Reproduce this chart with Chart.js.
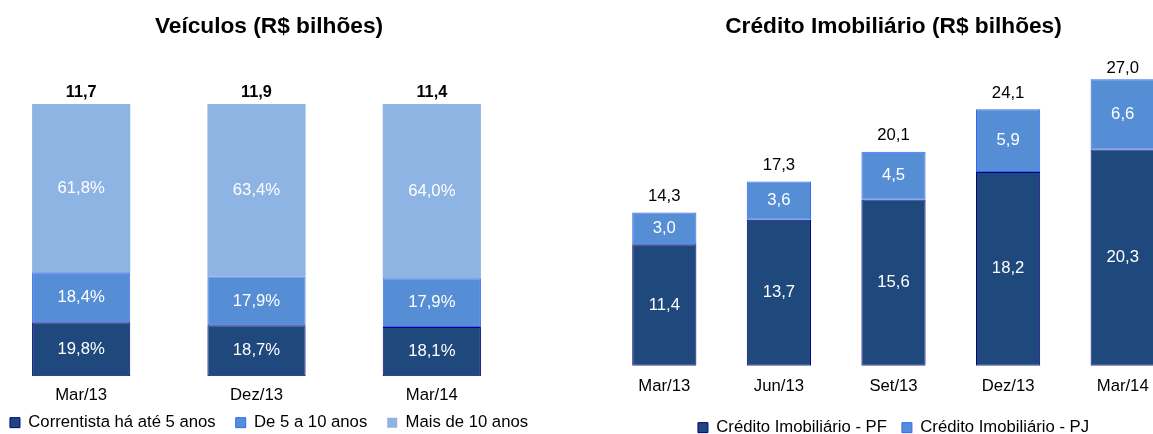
<!DOCTYPE html>
<html>
<head>
<meta charset="utf-8">
<script src="https://cdn.jsdelivr.net/npm/chart.js@4.4.0/dist/chart.umd.min.js"></script>
<style>
  html, body { margin: 0; padding: 0; width: 1153px; height: 434px; overflow: hidden; background: #fff; }
  body { position: relative; }
  canvas { position: absolute; top: 0; }
  #veic { left: -31px; }
  #imob { left: 607px; }
</style>
</head>
<body>
<canvas id="veic" width="600" height="441"></canvas>
<canvas id="imob" width="573" height="446"></canvas>
<script>
// Veículos - distribuição por tempo de relacionamento (%)
const veicLabels = ['Mar/13', 'Dez/13', 'Mar/14'];
const veicAte5 = [19.8, 18.7, 18.1];
const veic5a10 = [18.4, 17.9, 17.9];
const veicMais10 = [61.8, 63.4, 64.0];
const veicTotais = [11.7, 11.9, 11.4];

// Crédito imobiliário (R$ bilhões)
const imobLabels = ['Mar/13', 'Jun/13', 'Set/13', 'Dez/13', 'Mar/14'];
const imobPF = [11.4, 13.7, 15.6, 18.2, 20.3];
const imobPJ = [3.0, 3.6, 4.5, 5.9, 6.6];
const imobTotais = [14.3, 17.3, 20.1, 24.1, 27.0];

const FONT = "'Liberation Sans', Arial, sans-serif";
const FS = 16.7;       // texto normal
const TITLE_FS = 22.7; // títulos
Chart.defaults.font.family = FONT;
Chart.defaults.font.size = FS;
Chart.defaults.color = '#000';

const fmt = v => v.toFixed(1).replace('.', ',');

// rótulos dentro das barras + total acima da pilha
const barLabels = {
  id: 'barLabels',
  afterDatasetsDraw(chart, args, opts) {
    const ctx = chart.ctx;
    ctx.save();
    ctx.textAlign = 'center';
    ctx.textBaseline = 'middle';
    ctx.font = FS + 'px ' + FONT;
    ctx.fillStyle = '#fff';
    chart.data.datasets.forEach((ds, i) => {
      chart.getDatasetMeta(i).data.forEach((bar, j) => {
        ctx.fillText(fmt(ds.data[j]) + opts.suffix, bar.x, (bar.y + bar.base) / 2);
      });
    });
    const last = chart.getDatasetMeta(chart.data.datasets.length - 1).data;
    ctx.font = (opts.bold ? 'bold 16.3px ' : FS + 'px ') + FONT;
    ctx.fillStyle = '#000';
    last.forEach((bar, j) => {
      const y = Math.max(bar.y - opts.gap, chart.chartArea.top + opts.minTop);
      ctx.fillText(fmt(opts.totals[j]), bar.x, y);
    });
    ctx.restore();
  }
};

const dark = { backgroundColor: '#1F497D', borderColor: '#000080', borderWidth: 1, borderSkipped: false };
const mid = { backgroundColor: '#558ED5', borderColor: '#3366FF', borderWidth: 1, borderSkipped: false };
const light = { backgroundColor: '#8EB4E3', borderColor: '#8EB4E3', borderWidth: 0, borderSkipped: false };

// eixo x sem linhas; mirror evita o recorte dos rótulos quando a altura é fixada
// (com mirror o texto fica em top - padding - lineHeight/2)
function xAxis(center, h) {
  return {
    stacked: true,
    grid: { display: false, drawTicks: false },
    border: { display: false },
    ticks: { mirror: true, padding: -(center + FS * 0.6), color: '#000', font: { size: FS } },
    afterFit: s => { s.height = h; }
  };
}

// eixo y invisível que só ocupa largura
function spacer(pos, w, extra) {
  return Object.assign({
    position: pos,
    ticks: { display: false }, grid: { display: false }, border: { display: false },
    afterFit: s => { s.width = w; }
  }, extra);
}

new Chart(document.getElementById('veic'), {
  type: 'bar',
  data: {
    labels: veicLabels,
    datasets: [
      { label: 'Correntista há até 5 anos', data: veicAte5, ...dark },
      { label: 'De 5 a 10 anos', data: veic5a10, ...mid },
      { label: 'Mais de 10 anos', data: veicMais10, ...light }
    ]
  },
  options: {
    responsive: false,
    animation: false,
    barPercentage: 0.56,
    categoryPercentage: 1,
    layout: { padding: 0 },
    scales: {
      x: xAxis(19, 18.15),
      y: spacer('left', 24.5, { stacked: true, min: 0, max: 100 }),
      y2: spacer('right', 49.5, { min: 0, max: 1 })
    },
    plugins: {
      title: {
        display: true, text: 'Veículos (R$ bilhões)', color: '#000',
        font: { size: TITLE_FS, weight: 'bold' }, padding: { top: 12.9, bottom: 63.86 }
      },
      legend: {
        position: 'bottom',
        labels: { boxWidth: 10, boxHeight: 10, padding: 20, color: '#000', font: { size: FS } }
      },
      tooltip: { enabled: false },
      barLabels: { totals: veicTotais, suffix: '%', bold: true, gap: 11, minTop: -1000 }
    }
  },
  plugins: [barLabels]
});

new Chart(document.getElementById('imob'), {
  type: 'bar',
  data: {
    labels: imobLabels,
    datasets: [
      { label: 'Crédito Imobiliário - PF', data: imobPF, ...dark },
      { label: 'Crédito Imobiliário - PJ', data: imobPJ, ...mid }
    ]
  },
  options: {
    responsive: false,
    animation: false,
    barPercentage: 0.56,
    categoryPercentage: 1,
    layout: { padding: 0 },
    scales: {
      x: xAxis(20.3, 38.65),
      y: { stacked: true, min: 0, max: 30, display: false }
    },
    plugins: {
      title: {
        display: true, text: 'Crédito Imobiliário (R$ bilhões)', color: '#000',
        font: { size: TITLE_FS, weight: 'bold' }, padding: { top: 12.9, bottom: 6.21 }
      },
      legend: {
        position: 'bottom',
        labels: { boxWidth: 10, boxHeight: 10, padding: 15, color: '#000', font: { size: FS } }
      },
      tooltip: { enabled: false },
      barLabels: { totals: imobTotais, suffix: '', bold: false, gap: 16, minTop: 22 }
    }
  },
  plugins: [barLabels]
});
</script>
</body>
</html>
